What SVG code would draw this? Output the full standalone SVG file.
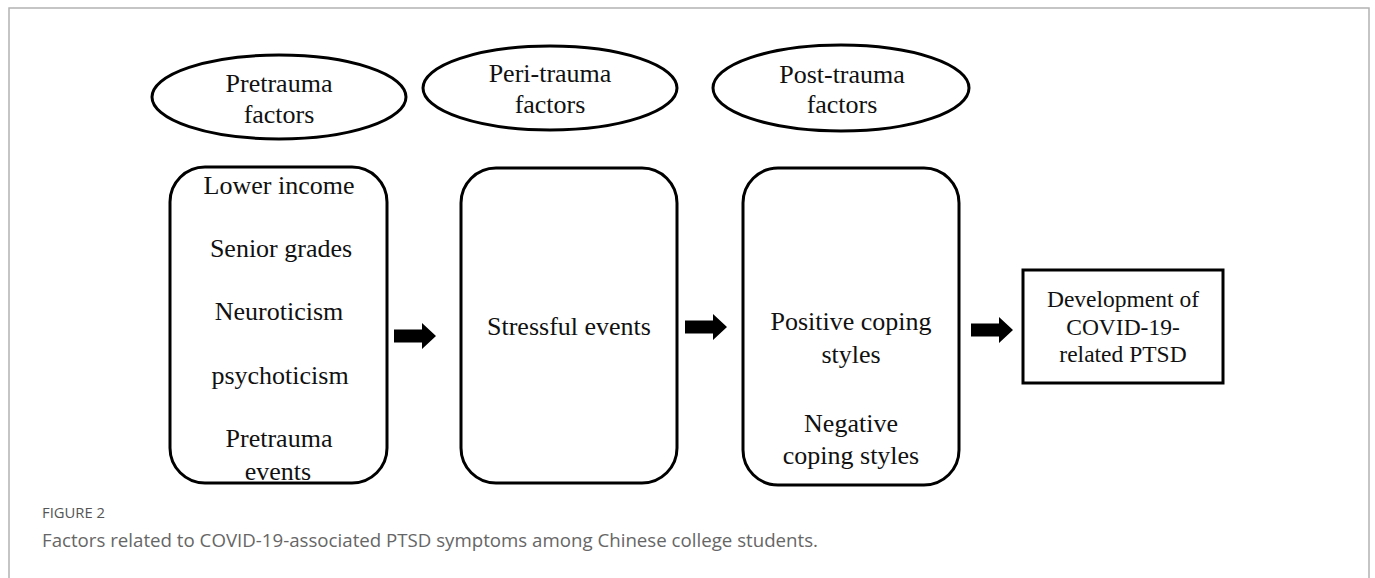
<svg xmlns="http://www.w3.org/2000/svg" width="1375" height="578" viewBox="0 0 1375 578">
<style>
.frame{fill:none;stroke:#b3b3b3;stroke-width:1.5}
.shape{fill:#fff;stroke:#000;stroke-width:3}
.t{font-family:"Liberation Serif","Times New Roman",serif;font-size:26px;fill:#111;text-anchor:middle}
.t2{font-family:"Liberation Serif","Times New Roman",serif;font-size:23.5px;fill:#111;text-anchor:middle}
.arrow{fill:#000}
.caph{font-family:"Open Sans","Liberation Sans",sans-serif;font-size:14px;fill:#555}
.cap{font-family:"Open Sans","Liberation Sans",sans-serif;font-size:18.5px;fill:#666}
</style>
<defs>
<path id="arr" d="M0,-6.5 H28 V-13 L42,0 L28,13 V6.5 H0 Z"/>
</defs>
<rect width="1375" height="578" fill="#fff"/>
<path class="frame" d="M9,590 V8 H1369 V590"/>

<g id="pretrauma-factors">
<ellipse class="shape" cx="279" cy="97" rx="127" ry="42"/>
<text class="t" x="279" y="92">Pretrauma</text>
<text class="t" x="279" y="123">factors</text>
</g>
<g id="peritrauma-factors">
<ellipse class="shape" cx="550" cy="88" rx="127" ry="42"/>
<text class="t" x="550" y="82">Peri-trauma</text>
<text class="t" x="550" y="113">factors</text>
</g>
<g id="posttrauma-factors">
<ellipse class="shape" cx="841" cy="88" rx="128" ry="43"/>
<text class="t" x="842" y="83">Post-trauma</text>
<text class="t" x="842" y="113">factors</text>
</g>

<g id="pretrauma-box">
<rect class="shape" x="170" y="167" width="217" height="316" rx="35" ry="35"/>
<text class="t" x="279" y="194">Lower income</text>
<text class="t" x="281" y="257">Senior grades</text>
<text class="t" x="279" y="320">Neuroticism</text>
<text class="t" x="280" y="384">psychoticism</text>
<text class="t" x="279" y="447">Pretrauma</text>
<text class="t" x="278" y="480">events</text>
</g>
<g id="peritrauma-box">
<rect class="shape" x="461" y="168" width="216" height="315" rx="35" ry="35"/>
<text class="t" x="569" y="335">Stressful events</text>
</g>
<g id="posttrauma-box">
<rect class="shape" x="743" y="168" width="216" height="317" rx="35" ry="35"/>
<text class="t" x="851" y="330">Positive coping</text>
<text class="t" x="851" y="363">styles</text>
<text class="t" x="851" y="432">Negative</text>
<text class="t" x="851" y="464">coping styles</text>
</g>
<g id="outcome">
<rect class="shape" x="1023" y="270" width="200" height="113"/>
<text class="t2" x="1123" y="307">Development of</text>
<text class="t2" x="1123" y="335">COVID-19-</text>
<text class="t2" x="1123" y="362">related PTSD</text>
</g>

<g id="connectors">
<use href="#arr" class="arrow" x="394" y="336"/>
<use href="#arr" class="arrow" x="685" y="327"/>
<use href="#arr" class="arrow" x="971" y="330"/>
</g>

<g id="caption">
<text class="caph" x="42" y="518" textLength="63" lengthAdjust="spacingAndGlyphs">FIGURE 2</text>
<text class="cap" x="42" y="547" textLength="776" lengthAdjust="spacingAndGlyphs">Factors related to COVID-19-associated PTSD symptoms among Chinese college students.</text>
</g>
</svg>
